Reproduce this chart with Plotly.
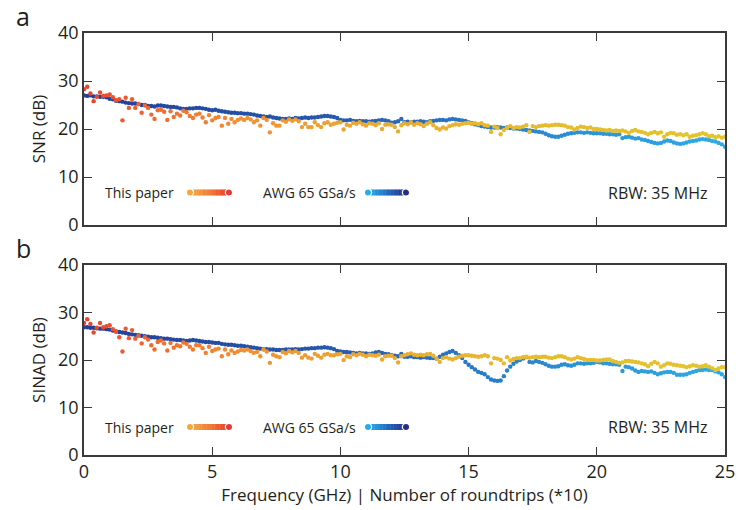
import plotly.graph_objects as go

# ---------------- data (0.125 GHz grid, 0 .. 25 GHz) ----------------
FREQ_STEP = 0.125

snr_awg = [
    27.0, 26.9, 27.0, 26.8, 26.8, 26.7, 26.7, 26.6,
    26.3, 26.2, 25.9, 25.8, 25.7, 25.5, 25.4, 25.3,
    25.3, 25.2, 25.0, 25.0, 24.8, 24.8, 24.7, 24.9,
    24.9, 24.8, 24.7, 24.6, 24.6, 24.5, 24.3, 24.2,
    24.2, 24.3, 24.3, 24.4, 24.4, 24.3, 24.2, 24.0,
    23.9, 24.0, 23.8, 23.7, 23.6, 23.5, 23.4, 23.4,
    23.3, 23.3, 23.2, 23.2, 23.1, 23.0, 22.8, 22.7,
    22.6, 22.5, 22.6, 22.4, 22.3, 22.2, 22.1, 22.1,
    22.2, 22.1, 22.3, 22.2, 22.3, 22.4, 22.3, 22.4,
    22.4, 22.5, 22.6, 22.7, 22.7, 22.6, 22.5, 22.3,
    21.9, 21.8, 21.8, 21.9, 21.7, 21.6, 21.7, 21.6,
    21.6, 21.5, 21.6, 21.7, 21.8, 21.9, 21.8, 21.6,
    21.3, 21.4, 21.6, 22.1, 21.4, 21.5, 21.4, 21.5,
    21.5, 21.6, 21.5, 21.4, 21.6, 21.7, 21.8, 21.9,
    21.9, 21.8, 22.0, 22.1, 22.0, 21.9, 21.8, 21.7,
    21.4, 21.2, 21.0, 20.8, 20.6, 20.5, 20.4, 20.3,
    20.3, 20.4, 20.3, 20.2, 20.3, 20.2, 20.1, 20.1,
    20.0, 19.9, 19.8, 19.7, 19.6, 19.5, 19.4, 19.3,
    19.0, 18.7, 18.5, 18.4, 18.4, 18.6, 18.8, 19.0,
    19.1, 19.2, 19.3, 19.3, 19.2, 19.3, 19.2, 19.1,
    19.1, 19.1, 19.0, 19.0, 18.9, 18.9, 18.8, 18.9,
    18.1, 18.3, 18.4, 18.2, 18.0, 18.1, 17.8, 17.7,
    17.5, 17.3, 17.1, 17.0, 17.1, 17.4, 17.6, 17.5,
    17.2, 17.0, 16.9, 17.0, 17.2, 17.4, 17.5, 17.6,
    17.8, 17.9, 17.8, 17.7, 17.5, 17.4, 17.1, 16.8,
    16.3,
]

snr_paper = [
    28.3, 28.8, 27.4, 25.8, 26.7, 27.6, 26.9, 27.0,
    27.2, 26.6, 26.0, 26.2, 21.8, 26.5, 24.4, 26.2,
    24.4, 25.2, 23.4, 24.9, 24.4, 23.0, 22.1, 23.9,
    24.0, 23.6, 21.9, 23.7, 22.5, 23.2, 22.8, 23.8,
    23.5, 22.7, 22.3, 23.0, 23.2, 22.4, 21.4, 22.9,
    21.8, 22.3, 22.5, 20.7, 22.3, 21.1, 22.1, 21.4,
    21.9, 22.2, 21.9, 22.3, 22.0, 21.4, 21.8, 20.7,
    22.3, 21.9, 19.3, 21.2, 20.7, 20.7, 21.8, 21.5,
    22.0, 21.7, 22.0, 21.6, 20.4, 21.1, 20.4, 20.4,
    21.4, 20.8, 20.4, 21.2, 21.4, 20.9, 21.1, 21.3,
    21.4, 19.9, 20.9, 20.7, 21.3, 21.1, 21.4, 21.0,
    20.7, 21.2, 21.1, 20.8, 21.2, 20.0, 20.9, 21.0,
    20.9, 20.4, 19.5, 20.8, 21.2, 21.0, 21.4, 20.9,
    21.2, 21.0, 20.6, 21.1, 21.4, 20.8, 20.2, 19.9,
    20.3, 20.1, 20.6, 20.8, 21.0, 20.9, 21.1, 21.2,
    21.3, 21.1, 21.2, 21.0, 21.2, 20.8, 20.7, 19.4,
    20.5, 20.2, 18.9, 19.8, 20.3, 20.6, 20.2, 20.4,
    20.3, 20.5, 20.8, 19.4, 20.6, 20.4, 20.6, 20.7,
    20.8, 20.7, 20.8, 20.9, 20.9, 20.8, 20.7, 20.4,
    20.3, 19.9, 20.2, 20.5, 20.4, 20.2, 20.3, 20.0,
    20.0, 19.9, 19.8, 19.7, 19.8, 19.6, 19.7, 19.6,
    19.7, 19.5, 19.2, 19.6, 19.8, 19.5, 19.4, 19.2,
    18.9, 19.2, 19.4, 19.1, 19.3, 18.4, 18.9, 19.2,
    19.1, 18.8, 18.9, 18.7, 18.9, 18.4, 18.6, 18.7,
    18.9, 19.1, 18.9, 18.5, 18.6, 18.3, 18.5, 18.2,
    18.4,
]

sinad_awg = [
    26.9, 26.9, 26.8, 26.8, 26.7, 26.6, 26.6, 26.5,
    26.4, 26.2, 26.0, 25.9, 25.8, 25.7, 25.5, 25.4,
    25.3, 25.2, 25.1, 25.0, 24.9, 24.8, 24.8, 24.7,
    24.6, 24.5, 24.5, 24.4, 24.3, 24.2, 24.2, 24.1,
    24.0, 24.1, 24.2, 24.1, 24.0, 23.9, 23.8, 23.8,
    23.7, 23.6, 23.6, 23.4, 23.3, 23.2, 23.2, 23.1,
    23.0, 23.0, 22.9, 22.8, 22.7, 22.6, 22.5, 22.4,
    22.3, 22.3, 22.2, 22.2, 22.1, 22.1, 22.1, 22.2,
    22.2, 22.2, 22.3, 22.2, 22.3, 22.4, 22.4, 22.5,
    22.5, 22.6, 22.6, 22.7, 22.6, 22.5, 22.3, 21.9,
    21.8, 21.7, 21.7, 21.6, 21.5, 21.4, 21.5, 21.4,
    21.4, 21.3, 21.4, 21.6, 21.7, 21.5, 21.3, 21.2,
    21.0, 20.9, 20.8, 21.3, 20.7, 20.7, 20.8, 20.6,
    20.6, 20.5, 20.6, 20.5, 20.4, 20.4, 20.3, 20.7,
    21.1, 21.4, 21.7, 21.9, 21.5, 21.0, 20.4, 19.6,
    19.0, 18.5, 18.0, 17.5, 17.3, 17.0, 16.4, 15.9,
    15.7, 15.6, 15.7, 16.6, 17.8, 18.6, 19.2, 19.7,
    20.0, 20.3, 20.6, 19.6, 19.5, 19.8, 19.6, 19.4,
    19.1, 18.8, 18.6, 18.6, 18.7, 19.0, 19.1, 18.9,
    18.8, 19.0, 19.3, 19.3, 19.2, 19.3, 19.3, 19.4,
    19.6, 19.5, 19.3, 19.3, 19.2, 19.1, 19.1, 19.0,
    17.7, 18.6, 18.5, 18.2, 17.8, 17.5, 17.7, 17.6,
    17.5, 17.6, 17.3, 17.0, 17.2, 17.4, 17.5, 17.5,
    17.3, 16.9, 16.9, 16.9, 17.0, 17.3, 17.5, 17.7,
    17.9, 17.9, 18.0, 17.9, 17.9, 17.6, 17.4, 17.0,
    16.4,
]

sinad_paper = [
    27.8, 28.6, 27.6, 25.8, 26.8, 27.8, 26.9, 27.1,
    27.3, 26.5, 26.0, 24.8, 21.8, 26.6, 24.6, 26.3,
    24.5, 25.1, 23.5, 24.8, 24.3, 23.1, 22.2, 23.8,
    24.1, 23.5, 22.0, 23.6, 22.6, 23.1, 22.9, 23.7,
    23.4, 22.8, 22.2, 23.1, 23.1, 22.5, 21.5, 22.8,
    21.9, 22.2, 22.4, 20.8, 22.2, 21.2, 22.0, 21.5,
    21.8, 22.1, 22.0, 22.2, 21.9, 21.5, 21.7, 20.8,
    22.2, 21.8, 19.4, 21.1, 20.8, 20.6, 21.7, 21.4,
    21.9, 21.6, 21.9, 21.5, 20.5, 21.0, 20.5, 20.3,
    21.3, 20.9, 20.5, 21.1, 21.3, 21.0, 21.0, 21.2,
    21.3, 20.0, 20.8, 20.6, 21.2, 21.0, 21.3, 21.1,
    20.8, 21.1, 21.0, 20.9, 21.1, 20.1, 20.8, 20.9,
    20.9, 20.4, 19.5, 20.8, 21.0, 21.2, 21.4, 21.1,
    21.0, 21.1, 21.0, 21.2, 21.3, 20.9, 20.3, 19.6,
    20.4, 20.6, 20.3, 20.1, 20.4, 20.7, 20.9, 21.0,
    21.0, 20.9, 20.8, 20.7, 20.8, 21.0, 20.8, 19.3,
    20.4, 20.3, 20.0, 19.3, 20.6, 19.9, 20.2, 20.4,
    20.4, 20.6, 20.7, 20.5, 20.6, 20.7, 20.6, 20.7,
    20.7, 20.5, 20.4, 20.6, 20.8, 20.8, 20.6, 20.3,
    20.1, 20.3, 20.6, 20.4, 20.2, 20.0, 20.0, 20.0,
    19.9, 19.9, 20.0, 20.1, 20.1, 19.8, 19.6, 19.4,
    19.5, 19.8, 19.8, 19.7, 19.6, 19.5, 19.3, 19.1,
    18.7, 19.2, 19.6, 19.3, 18.6, 18.9, 19.3, 19.2,
    19.0, 18.9, 18.8, 18.7, 18.5, 18.7, 18.9, 18.8,
    18.6, 18.7, 18.9, 18.6, 18.3, 17.9, 18.2, 18.5,
    18.5,
]

x_ticks = [0, 5, 10, 15, 20, 25]
y_ticks = [0, 10, 20, 30, 40]
legend_labels = ["This paper", "AWG 65 GSa/s"]
panel_labels = ["a", "b"]
y_titles = ["SNR (dB)", "SINAD (dB)"]
x_title = "Frequency (GHz) | Number of roundtrips (*10)"
rbw_text = "RBW: 35 MHz"

freq = [round(i * FREQ_STEP, 3) for i in range(len(snr_awg))]

# ---------------- styling ----------------
FONT = "Open Sans"
TXT = "#231f20"
AX = "#3a3a3a"
paper_scale = [[0, "#ec3f2c"], [0.1, "#f0672f"], [0.25, "#f09033"],
               [0.45, "#eaa932"], [0.65, "#e6b92f"], [1, "#e3c52c"]]
awg_scale = [[0, "#233f98"], [0.35, "#2556ac"], [0.55, "#2870bf"],
             [0.8, "#2c95d8"], [1, "#30abe6"]]

W, H = 740, 510
ML, MR, MT, MB = 84, 15, 33, 55
plot_h = H - MT - MB
panels = [(33, 225), (265, 455)]  # top, bottom pixel of each panel


def dom(top, bot):
    return [(H - MB - bot) / plot_h, (H - MB - top) / plot_h]


fig = go.Figure()
series = [(snr_awg, snr_paper), (sinad_awg, sinad_paper)]
for k, (awg, paper) in enumerate(series):
    xa = "x" if k == 0 else "x2"
    ya = "y" if k == 0 else "y2"
    fig.add_trace(go.Scatter(
        x=freq, y=awg, mode="markers", xaxis=xa, yaxis=ya, showlegend=False,
        marker=dict(size=4.4, color=freq, colorscale=awg_scale, cmin=0, cmax=25,
                    line=dict(width=0))))
    fig.add_trace(go.Scatter(
        x=freq, y=paper, mode="markers", xaxis=xa, yaxis=ya, showlegend=False,
        marker=dict(size=4.4, color=freq, colorscale=paper_scale, cmin=0, cmax=25,
                    line=dict(width=0))))

axis_common = dict(range=[0, 25], tickvals=x_ticks, ticks="inside", ticklen=8,
                   tickwidth=1.3, tickcolor=AX, showline=True, linecolor=AX,
                   linewidth=1.5, mirror="ticks", showgrid=False, zeroline=False,
                   automargin=False,
                   tickfont=dict(family=FONT, size=18, color=TXT))
yaxis_common = dict(range=[0, 40], tickvals=y_ticks, ticks="inside", ticklen=8,
                    tickwidth=1.3, tickcolor=AX, showline=True, linecolor=AX,
                    linewidth=1.5, mirror="ticks", showgrid=False, zeroline=False,
                    automargin=False,
                    tickfont=dict(family=FONT, size=18, color=TXT),
                    title=dict(font=dict(family=FONT, size=17, color=TXT), standoff=8))

fig.update_layout(
    width=W, height=H, margin=dict(l=ML, r=MR, t=MT, b=MB),
    paper_bgcolor="white", plot_bgcolor="white",
    xaxis=dict(axis_common, domain=[0, 1], anchor="y", showticklabels=False),
    yaxis=dict(yaxis_common, domain=dom(*panels[0]), anchor="x",
               title=dict(yaxis_common["title"], text=y_titles[0])),
    xaxis2=dict(axis_common, domain=[0, 1], anchor="y2",
                title=dict(text=x_title, font=dict(family=FONT, size=17, color=TXT),
                           standoff=4)),
    yaxis2=dict(yaxis_common, domain=dom(*panels[1]), anchor="x2",
                title=dict(yaxis_common["title"], text=y_titles[1])),
)


def hex2rgb(h):
    h = h.lstrip("#")
    return [int(h[i:i + 2], 16) for i in (0, 2, 4)]


def lerp(stops, t):
    for i in range(len(stops) - 1):
        a, b = stops[i], stops[i + 1]
        if a[0] <= t <= b[0]:
            u = (t - a[0]) / (b[0] - a[0])
            ca, cb = hex2rgb(a[1]), hex2rgb(b[1])
            return "rgb(%d,%d,%d)" % tuple(round(ca[j] + (cb[j] - ca[j]) * u) for j in range(3))
    return stops[-1][1]


leg_paper = [[0, "#f6ad45"], [0.5, "#f07a35"], [1, "#e8392b"]]
leg_awg = [[0, "#2bb2ee"], [0.5, "#1f6cc0"], [1, "#2a2c86"]]
legend_items = [
    (legend_labels[0], 176, 190, 229, leg_paper, "#f5a73e", "#e63a35"),
    (legend_labels[1], 358, 368, 406, leg_awg, "#22aff0", "#2b2b85"),
]

shapes = []
annotations = []
pw = W - ML - MR
for k, (top, bot) in enumerate(panels):
    xr = "x domain" if k == 0 else "x2 domain"
    yr = "y domain" if k == 0 else "y2 domain"
    ph = bot - top
    ycen = bot - 32.5 if k == 0 else bot - 28

    def dx(px):
        return (px - ML) / pw

    def dy(py):
        return (bot - py) / ph

    for label, txt_right, x0, x1, stops, c0, c1 in legend_items:
        annotations.append(dict(text=label, xref=xr, yref=yr, x=dx(txt_right), y=dy(ycen),
                                xanchor="right", yanchor="middle", showarrow=False,
                                font=dict(family=FONT, size=14, color=TXT)))
        nseg = 24
        for s in range(nseg):
            a = x0 + (x1 - x0) * s / nseg
            b = x0 + (x1 - x0) * (s + 1) / nseg + 0.4
            shapes.append(dict(type="rect", xref=xr, yref=yr, x0=dx(a), x1=dx(b),
                               y0=dy(ycen + 3), y1=dy(ycen - 3), line=dict(width=0),
                               fillcolor=lerp(stops, (s + 0.5) / nseg), layer="above"))
        for xc, col in ((x0, c0), (x1, c1)):
            r = 3.6
            shapes.append(dict(type="circle", xref=xr, yref=yr, x0=dx(xc - r), x1=dx(xc + r),
                               y0=dy(ycen + r), y1=dy(ycen - r), fillcolor=col,
                               line=dict(color="white", width=1.2), layer="above"))
    annotations.append(dict(text=rbw_text, xref=xr, yref=yr, x=dx(709), y=dy(ycen),
                            xanchor="right", yanchor="middle", showarrow=False,
                            font=dict(family=FONT, size=16, color=TXT)))
    annotations.append(dict(text=panel_labels[k], xref="paper", yref="paper",
                            x=(23 - ML) / pw, y=(H - MB - (top - 17)) / plot_h,
                            xanchor="center", yanchor="middle", showarrow=False,
                            font=dict(family=FONT, size=25, color=TXT)))

fig.update_layout(shapes=shapes, annotations=annotations)
fig.write_html("out.html", config={"displayModeBar": False},
               post_script="document.body.style.margin='0px';document.body.style.overflow='hidden';")
